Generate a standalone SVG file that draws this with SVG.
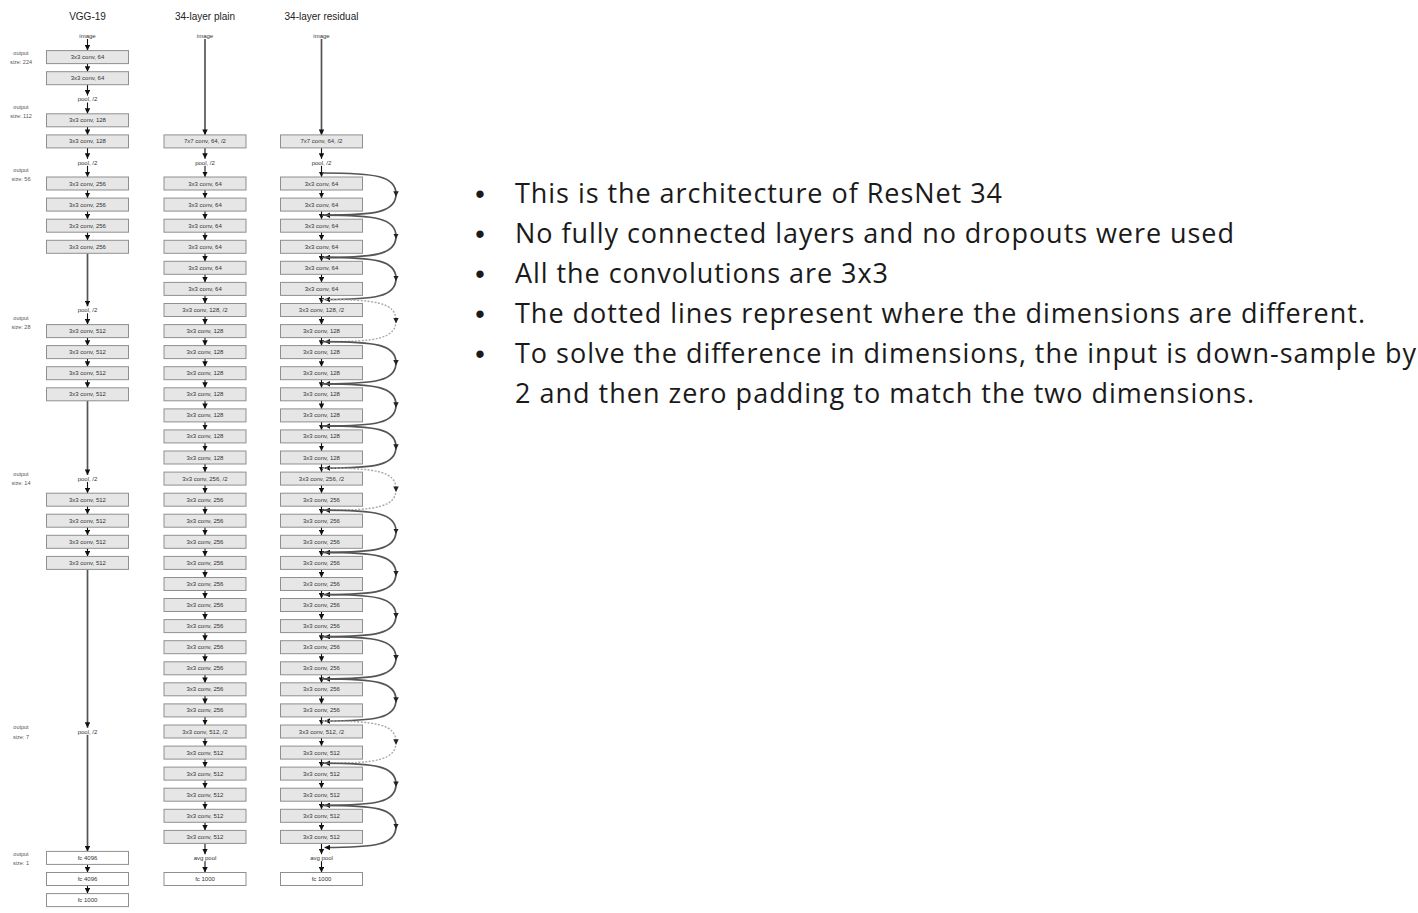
<svg xmlns="http://www.w3.org/2000/svg" xmlns:xlink="http://www.w3.org/1999/xlink" width="1418" height="913" viewBox="0 0 1418 913">
<style>
text{font-family:"Liberation Sans",Arial,sans-serif}
.bx{fill:#e6e6e6;stroke:#8f8f8f;stroke-width:1}
.fc{fill:#ffffff;stroke:#8f8f8f;stroke-width:1}
.lb{font-size:6px;fill:#333;text-anchor:middle}
.ol{font-size:5.5px;fill:#555;text-anchor:middle}
.ti{font-size:10px;fill:#222;text-anchor:middle}
.ar{stroke:#111;stroke-width:1.1;marker-end:url(#ah)}
.lg{stroke:#555;stroke-width:1.7;marker-end:url(#ah)}
.sk{fill:none;stroke:#555;stroke-width:1.7;marker-mid:url(#am);marker-end:url(#ah)}
.dt{fill:none;stroke:#a8a8a8;stroke-width:1.4;stroke-dasharray:2 1.5;marker-mid:url(#am);marker-end:url(#ah)}
.nt{font-family:"Open Sans","Noto Sans",sans-serif;font-size:27px;fill:#1a1a1a}
.bu{font-family:"Liberation Sans",Arial,sans-serif;font-size:27px;fill:#1a1a1a;text-anchor:middle}
</style>
<defs>
<marker id="ah" viewBox="0 0 6 6" refX="6" refY="3" markerWidth="5.5" markerHeight="5.5" markerUnits="userSpaceOnUse" orient="auto"><path d="M0,0 L6,3 L0,6 z" fill="#111"/></marker>
<marker id="am" viewBox="0 0 6 6" refX="3" refY="3" markerWidth="5.5" markerHeight="5.5" markerUnits="userSpaceOnUse" orient="auto"><path d="M0,0 L6,3 L0,6 z" fill="#222"/></marker>
<line id="s" class="ar" x1="0" y1="0" x2="0" y2="8.1"/>
<path id="arcS" class="sk" d="M322 0 C376 0 396 3 396 21.1 C396 39.2 376 42.2 324.5 42.2"/>
<path id="arcD" class="dt" d="M322 0 C376 0 396 3 396 21.1 C396 39.2 376 42.2 324.5 42.2"/>
</defs>
<rect width="1418" height="913" fill="#ffffff"/>

<g id="titles">
<text class="ti" x="87.5" y="20">VGG-19</text>
<text class="ti" x="205" y="20">34-layer plain</text>
<text class="ti" x="321.5" y="20">34-layer residual</text>
</g>

<g id="output-sizes">
<text class="ol" x="21" y="55">output</text><text class="ol" x="21" y="64">size: 224</text>
<text class="ol" x="21" y="109">output</text><text class="ol" x="21" y="118">size: 112</text>
<text class="ol" x="21" y="172">output</text><text class="ol" x="21" y="181">size: 56</text>
<text class="ol" x="21" y="320">output</text><text class="ol" x="21" y="329">size: 28</text>
<text class="ol" x="21" y="476">output</text><text class="ol" x="21" y="485">size: 14</text>
<text class="ol" x="21" y="729">output</text><text class="ol" x="21" y="739">size: 7</text>
<text class="ol" x="21" y="856">output</text><text class="ol" x="21" y="865">size: 1</text>
</g>

<g id="connectors">
<!-- VGG -->
<line class="ar" x1="87.5" y1="39" x2="87.5" y2="50.6"/>
<use href="#s" x="87.5" y="63.6"/>
<line class="ar" x1="87.5" y1="84.7" x2="87.5" y2="95.5"/>
<line class="ar" x1="87.5" y1="102.5" x2="87.5" y2="113.8"/>
<use href="#s" x="87.5" y="126.8"/>
<line class="ar" x1="87.5" y1="147.9" x2="87.5" y2="158.8"/>
<line class="ar" x1="87.5" y1="165.8" x2="87.5" y2="177"/>
<use href="#s" x="87.5" y="190"/>
<use href="#s" x="87.5" y="211.1"/>
<use href="#s" x="87.5" y="232.2"/>
<line class="lg" x1="87.5" y1="253.3" x2="87.5" y2="306.3"/>
<line class="ar" x1="87.5" y1="313.3" x2="87.5" y2="324.6"/>
<use href="#s" x="87.5" y="337.6"/>
<use href="#s" x="87.5" y="358.6"/>
<use href="#s" x="87.5" y="379.7"/>
<line class="lg" x1="87.5" y1="400.8" x2="87.5" y2="474.9"/>
<line class="ar" x1="87.5" y1="481.9" x2="87.5" y2="493.2"/>
<use href="#s" x="87.5" y="506.2"/>
<use href="#s" x="87.5" y="527.2"/>
<use href="#s" x="87.5" y="548.3"/>
<line class="lg" x1="87.5" y1="569.4" x2="87.5" y2="727.8"/>
<line class="lg" x1="87.5" y1="734.8" x2="87.5" y2="851.4"/>
<use href="#s" x="87.5" y="864.4"/>
<use href="#s" x="87.5" y="885.5"/>
<!-- plain -->
<line class="lg" x1="205" y1="39" x2="205" y2="134.9"/>
<line class="ar" x1="205" y1="147.9" x2="205" y2="158.8"/>
<line class="ar" x1="205" y1="165.8" x2="205" y2="177"/>
<use href="#s" x="205" y="190"/><use href="#s" x="205" y="211.1"/><use href="#s" x="205" y="232.2"/><use href="#s" x="205" y="253.3"/>
<use href="#s" x="205" y="274.3"/><use href="#s" x="205" y="295.4"/><use href="#s" x="205" y="316.5"/><use href="#s" x="205" y="337.6"/>
<use href="#s" x="205" y="358.6"/><use href="#s" x="205" y="379.7"/><use href="#s" x="205" y="400.8"/><use href="#s" x="205" y="421.9"/>
<use href="#s" x="205" y="442.9"/><use href="#s" x="205" y="464"/><use href="#s" x="205" y="485.1"/><use href="#s" x="205" y="506.2"/>
<use href="#s" x="205" y="527.2"/><use href="#s" x="205" y="548.3"/><use href="#s" x="205" y="569.4"/><use href="#s" x="205" y="590.5"/>
<use href="#s" x="205" y="611.5"/><use href="#s" x="205" y="632.6"/><use href="#s" x="205" y="653.7"/><use href="#s" x="205" y="674.8"/>
<use href="#s" x="205" y="695.8"/><use href="#s" x="205" y="716.9"/><use href="#s" x="205" y="738"/><use href="#s" x="205" y="759.1"/>
<use href="#s" x="205" y="780.1"/><use href="#s" x="205" y="801.2"/><use href="#s" x="205" y="822.3"/>
<line class="ar" x1="205" y1="843.4" x2="205" y2="854.2"/>
<line class="ar" x1="205" y1="861.2" x2="205" y2="872.5"/>
<!-- residual -->
<line class="lg" x1="321.5" y1="39" x2="321.5" y2="134.9"/>
<line class="ar" x1="321.5" y1="147.9" x2="321.5" y2="158.8"/>
<line class="ar" x1="321.5" y1="165.8" x2="321.5" y2="177"/>
<use href="#s" x="321.5" y="190"/><use href="#s" x="321.5" y="211.1"/><use href="#s" x="321.5" y="232.2"/><use href="#s" x="321.5" y="253.3"/>
<use href="#s" x="321.5" y="274.3"/><use href="#s" x="321.5" y="295.4"/><use href="#s" x="321.5" y="316.5"/><use href="#s" x="321.5" y="337.6"/>
<use href="#s" x="321.5" y="358.6"/><use href="#s" x="321.5" y="379.7"/><use href="#s" x="321.5" y="400.8"/><use href="#s" x="321.5" y="421.9"/>
<use href="#s" x="321.5" y="442.9"/><use href="#s" x="321.5" y="464"/><use href="#s" x="321.5" y="485.1"/><use href="#s" x="321.5" y="506.2"/>
<use href="#s" x="321.5" y="527.2"/><use href="#s" x="321.5" y="548.3"/><use href="#s" x="321.5" y="569.4"/><use href="#s" x="321.5" y="590.5"/>
<use href="#s" x="321.5" y="611.5"/><use href="#s" x="321.5" y="632.6"/><use href="#s" x="321.5" y="653.7"/><use href="#s" x="321.5" y="674.8"/>
<use href="#s" x="321.5" y="695.8"/><use href="#s" x="321.5" y="716.9"/><use href="#s" x="321.5" y="738"/><use href="#s" x="321.5" y="759.1"/>
<use href="#s" x="321.5" y="780.1"/><use href="#s" x="321.5" y="801.2"/><use href="#s" x="321.5" y="822.3"/>
<line class="ar" x1="321.5" y1="843.4" x2="321.5" y2="854.2"/>
<line class="ar" x1="321.5" y1="861.2" x2="321.5" y2="872.5"/>
<!-- shortcuts -->
<use href="#arcS" y="173"/>
<use href="#arcS" y="215.2"/>
<use href="#arcS" y="257.3"/>
<use href="#arcD" y="299.5"/>
<use href="#arcS" y="341.6"/>
<use href="#arcS" y="383.8"/>
<use href="#arcS" y="425.9"/>
<use href="#arcD" y="468.1"/>
<use href="#arcS" y="510.2"/>
<use href="#arcS" y="552.4"/>
<use href="#arcS" y="594.5"/>
<use href="#arcS" y="636.7"/>
<use href="#arcS" y="678.8"/>
<use href="#arcD" y="721"/>
<use href="#arcS" y="763.1"/>
<use href="#arcS" y="805.3"/>
</g>

<g id="vgg">
<g id="vgg-image"><text class="lb" x="87.5" y="38">image</text></g>
<g id="vgg-c1"><rect class="bx" x="46.5" y="50.6" width="82" height="13"/><text class="lb" x="87.5" y="59.1">3x3 conv, 64</text></g>
<g id="vgg-c2"><rect class="bx" x="46.5" y="71.7" width="82" height="13"/><text class="lb" x="87.5" y="80.2">3x3 conv, 64</text></g>
<g id="vgg-p1"><text class="lb" x="87.5" y="101.2">pool, /2</text></g>
<g id="vgg-c3"><rect class="bx" x="46.5" y="113.8" width="82" height="13"/><text class="lb" x="87.5" y="122.3">3x3 conv, 128</text></g>
<g id="vgg-c4"><rect class="bx" x="46.5" y="134.9" width="82" height="13"/><text class="lb" x="87.5" y="143.4">3x3 conv, 128</text></g>
<g id="vgg-p2"><text class="lb" x="87.5" y="164.5">pool, /2</text></g>
<g id="vgg-c5"><rect class="bx" x="46.5" y="177" width="82" height="13"/><text class="lb" x="87.5" y="185.5">3x3 conv, 256</text></g>
<g id="vgg-c6"><rect class="bx" x="46.5" y="198.1" width="82" height="13"/><text class="lb" x="87.5" y="206.6">3x3 conv, 256</text></g>
<g id="vgg-c7"><rect class="bx" x="46.5" y="219.2" width="82" height="13"/><text class="lb" x="87.5" y="227.7">3x3 conv, 256</text></g>
<g id="vgg-c8"><rect class="bx" x="46.5" y="240.3" width="82" height="13"/><text class="lb" x="87.5" y="248.8">3x3 conv, 256</text></g>
<g id="vgg-p3"><text class="lb" x="87.5" y="312">pool, /2</text></g>
<g id="vgg-c9"><rect class="bx" x="46.5" y="324.6" width="82" height="13"/><text class="lb" x="87.5" y="333.1">3x3 conv, 512</text></g>
<g id="vgg-c10"><rect class="bx" x="46.5" y="345.6" width="82" height="13"/><text class="lb" x="87.5" y="354.1">3x3 conv, 512</text></g>
<g id="vgg-c11"><rect class="bx" x="46.5" y="366.7" width="82" height="13"/><text class="lb" x="87.5" y="375.2">3x3 conv, 512</text></g>
<g id="vgg-c12"><rect class="bx" x="46.5" y="387.8" width="82" height="13"/><text class="lb" x="87.5" y="396.3">3x3 conv, 512</text></g>
<g id="vgg-p4"><text class="lb" x="87.5" y="480.6">pool, /2</text></g>
<g id="vgg-c13"><rect class="bx" x="46.5" y="493.2" width="82" height="13"/><text class="lb" x="87.5" y="501.7">3x3 conv, 512</text></g>
<g id="vgg-c14"><rect class="bx" x="46.5" y="514.2" width="82" height="13"/><text class="lb" x="87.5" y="522.7">3x3 conv, 512</text></g>
<g id="vgg-c15"><rect class="bx" x="46.5" y="535.3" width="82" height="13"/><text class="lb" x="87.5" y="543.8">3x3 conv, 512</text></g>
<g id="vgg-c16"><rect class="bx" x="46.5" y="556.4" width="82" height="13"/><text class="lb" x="87.5" y="564.9">3x3 conv, 512</text></g>
<g id="vgg-p5"><text class="lb" x="87.5" y="733.5">pool, /2</text></g>
<g id="vgg-fc1"><rect class="fc" x="46.5" y="851.4" width="82" height="13"/><text class="lb" x="87.5" y="859.9">fc 4096</text></g>
<g id="vgg-fc2"><rect class="fc" x="46.5" y="872.5" width="82" height="13"/><text class="lb" x="87.5" y="881">fc 4096</text></g>
<g id="vgg-fc3"><rect class="fc" x="46.5" y="893.6" width="82" height="13"/><text class="lb" x="87.5" y="902.1">fc 1000</text></g>
</g>

<g id="plain">
<g id="plain-image"><text class="lb" x="205" y="38">image</text></g>
<g id="plain-c0"><rect class="bx" x="164" y="134.9" width="82" height="13"/><text class="lb" x="205" y="143.4">7x7 conv, 64, /2</text></g>
<g id="plain-pool"><text class="lb" x="205" y="164.5">pool, /2</text></g>
<g id="plain-c1"><rect class="bx" x="164" y="177" width="82" height="13"/><text class="lb" x="205" y="185.5">3x3 conv, 64</text></g>
<g id="plain-c2"><rect class="bx" x="164" y="198.1" width="82" height="13"/><text class="lb" x="205" y="206.6">3x3 conv, 64</text></g>
<g id="plain-c3"><rect class="bx" x="164" y="219.2" width="82" height="13"/><text class="lb" x="205" y="227.7">3x3 conv, 64</text></g>
<g id="plain-c4"><rect class="bx" x="164" y="240.3" width="82" height="13"/><text class="lb" x="205" y="248.8">3x3 conv, 64</text></g>
<g id="plain-c5"><rect class="bx" x="164" y="261.3" width="82" height="13"/><text class="lb" x="205" y="269.8">3x3 conv, 64</text></g>
<g id="plain-c6"><rect class="bx" x="164" y="282.4" width="82" height="13"/><text class="lb" x="205" y="290.9">3x3 conv, 64</text></g>
<g id="plain-c7"><rect class="bx" x="164" y="303.5" width="82" height="13"/><text class="lb" x="205" y="312">3x3 conv, 128, /2</text></g>
<g id="plain-c8"><rect class="bx" x="164" y="324.6" width="82" height="13"/><text class="lb" x="205" y="333.1">3x3 conv, 128</text></g>
<g id="plain-c9"><rect class="bx" x="164" y="345.6" width="82" height="13"/><text class="lb" x="205" y="354.1">3x3 conv, 128</text></g>
<g id="plain-c10"><rect class="bx" x="164" y="366.7" width="82" height="13"/><text class="lb" x="205" y="375.2">3x3 conv, 128</text></g>
<g id="plain-c11"><rect class="bx" x="164" y="387.8" width="82" height="13"/><text class="lb" x="205" y="396.3">3x3 conv, 128</text></g>
<g id="plain-c12"><rect class="bx" x="164" y="408.9" width="82" height="13"/><text class="lb" x="205" y="417.4">3x3 conv, 128</text></g>
<g id="plain-c13"><rect class="bx" x="164" y="429.9" width="82" height="13"/><text class="lb" x="205" y="438.4">3x3 conv, 128</text></g>
<g id="plain-c14"><rect class="bx" x="164" y="451" width="82" height="13"/><text class="lb" x="205" y="459.5">3x3 conv, 128</text></g>
<g id="plain-c15"><rect class="bx" x="164" y="472.1" width="82" height="13"/><text class="lb" x="205" y="480.6">3x3 conv, 256, /2</text></g>
<g id="plain-c16"><rect class="bx" x="164" y="493.2" width="82" height="13"/><text class="lb" x="205" y="501.7">3x3 conv, 256</text></g>
<g id="plain-c17"><rect class="bx" x="164" y="514.2" width="82" height="13"/><text class="lb" x="205" y="522.7">3x3 conv, 256</text></g>
<g id="plain-c18"><rect class="bx" x="164" y="535.3" width="82" height="13"/><text class="lb" x="205" y="543.8">3x3 conv, 256</text></g>
<g id="plain-c19"><rect class="bx" x="164" y="556.4" width="82" height="13"/><text class="lb" x="205" y="564.9">3x3 conv, 256</text></g>
<g id="plain-c20"><rect class="bx" x="164" y="577.5" width="82" height="13"/><text class="lb" x="205" y="586">3x3 conv, 256</text></g>
<g id="plain-c21"><rect class="bx" x="164" y="598.5" width="82" height="13"/><text class="lb" x="205" y="607">3x3 conv, 256</text></g>
<g id="plain-c22"><rect class="bx" x="164" y="619.6" width="82" height="13"/><text class="lb" x="205" y="628.1">3x3 conv, 256</text></g>
<g id="plain-c23"><rect class="bx" x="164" y="640.7" width="82" height="13"/><text class="lb" x="205" y="649.2">3x3 conv, 256</text></g>
<g id="plain-c24"><rect class="bx" x="164" y="661.8" width="82" height="13"/><text class="lb" x="205" y="670.3">3x3 conv, 256</text></g>
<g id="plain-c25"><rect class="bx" x="164" y="682.8" width="82" height="13"/><text class="lb" x="205" y="691.3">3x3 conv, 256</text></g>
<g id="plain-c26"><rect class="bx" x="164" y="703.9" width="82" height="13"/><text class="lb" x="205" y="712.4">3x3 conv, 256</text></g>
<g id="plain-c27"><rect class="bx" x="164" y="725" width="82" height="13"/><text class="lb" x="205" y="733.5">3x3 conv, 512, /2</text></g>
<g id="plain-c28"><rect class="bx" x="164" y="746.1" width="82" height="13"/><text class="lb" x="205" y="754.6">3x3 conv, 512</text></g>
<g id="plain-c29"><rect class="bx" x="164" y="767.1" width="82" height="13"/><text class="lb" x="205" y="775.6">3x3 conv, 512</text></g>
<g id="plain-c30"><rect class="bx" x="164" y="788.2" width="82" height="13"/><text class="lb" x="205" y="796.7">3x3 conv, 512</text></g>
<g id="plain-c31"><rect class="bx" x="164" y="809.3" width="82" height="13"/><text class="lb" x="205" y="817.8">3x3 conv, 512</text></g>
<g id="plain-c32"><rect class="bx" x="164" y="830.4" width="82" height="13"/><text class="lb" x="205" y="838.9">3x3 conv, 512</text></g>
<g id="plain-avg"><text class="lb" x="205" y="859.9">avg pool</text></g>
<g id="plain-fc"><rect class="fc" x="164" y="872.5" width="82" height="13"/><text class="lb" x="205" y="881">fc 1000</text></g>
</g>

<g id="residual">
<g id="res-image"><text class="lb" x="321.5" y="38">image</text></g>
<g id="res-c0"><rect class="bx" x="280.5" y="134.9" width="82" height="13"/><text class="lb" x="321.5" y="143.4">7x7 conv, 64, /2</text></g>
<g id="res-pool"><text class="lb" x="321.5" y="164.5">pool, /2</text></g>
<g id="res-c1"><rect class="bx" x="280.5" y="177" width="82" height="13"/><text class="lb" x="321.5" y="185.5">3x3 conv, 64</text></g>
<g id="res-c2"><rect class="bx" x="280.5" y="198.1" width="82" height="13"/><text class="lb" x="321.5" y="206.6">3x3 conv, 64</text></g>
<g id="res-c3"><rect class="bx" x="280.5" y="219.2" width="82" height="13"/><text class="lb" x="321.5" y="227.7">3x3 conv, 64</text></g>
<g id="res-c4"><rect class="bx" x="280.5" y="240.3" width="82" height="13"/><text class="lb" x="321.5" y="248.8">3x3 conv, 64</text></g>
<g id="res-c5"><rect class="bx" x="280.5" y="261.3" width="82" height="13"/><text class="lb" x="321.5" y="269.8">3x3 conv, 64</text></g>
<g id="res-c6"><rect class="bx" x="280.5" y="282.4" width="82" height="13"/><text class="lb" x="321.5" y="290.9">3x3 conv, 64</text></g>
<g id="res-c7"><rect class="bx" x="280.5" y="303.5" width="82" height="13"/><text class="lb" x="321.5" y="312">3x3 conv, 128, /2</text></g>
<g id="res-c8"><rect class="bx" x="280.5" y="324.6" width="82" height="13"/><text class="lb" x="321.5" y="333.1">3x3 conv, 128</text></g>
<g id="res-c9"><rect class="bx" x="280.5" y="345.6" width="82" height="13"/><text class="lb" x="321.5" y="354.1">3x3 conv, 128</text></g>
<g id="res-c10"><rect class="bx" x="280.5" y="366.7" width="82" height="13"/><text class="lb" x="321.5" y="375.2">3x3 conv, 128</text></g>
<g id="res-c11"><rect class="bx" x="280.5" y="387.8" width="82" height="13"/><text class="lb" x="321.5" y="396.3">3x3 conv, 128</text></g>
<g id="res-c12"><rect class="bx" x="280.5" y="408.9" width="82" height="13"/><text class="lb" x="321.5" y="417.4">3x3 conv, 128</text></g>
<g id="res-c13"><rect class="bx" x="280.5" y="429.9" width="82" height="13"/><text class="lb" x="321.5" y="438.4">3x3 conv, 128</text></g>
<g id="res-c14"><rect class="bx" x="280.5" y="451" width="82" height="13"/><text class="lb" x="321.5" y="459.5">3x3 conv, 128</text></g>
<g id="res-c15"><rect class="bx" x="280.5" y="472.1" width="82" height="13"/><text class="lb" x="321.5" y="480.6">3x3 conv, 256, /2</text></g>
<g id="res-c16"><rect class="bx" x="280.5" y="493.2" width="82" height="13"/><text class="lb" x="321.5" y="501.7">3x3 conv, 256</text></g>
<g id="res-c17"><rect class="bx" x="280.5" y="514.2" width="82" height="13"/><text class="lb" x="321.5" y="522.7">3x3 conv, 256</text></g>
<g id="res-c18"><rect class="bx" x="280.5" y="535.3" width="82" height="13"/><text class="lb" x="321.5" y="543.8">3x3 conv, 256</text></g>
<g id="res-c19"><rect class="bx" x="280.5" y="556.4" width="82" height="13"/><text class="lb" x="321.5" y="564.9">3x3 conv, 256</text></g>
<g id="res-c20"><rect class="bx" x="280.5" y="577.5" width="82" height="13"/><text class="lb" x="321.5" y="586">3x3 conv, 256</text></g>
<g id="res-c21"><rect class="bx" x="280.5" y="598.5" width="82" height="13"/><text class="lb" x="321.5" y="607">3x3 conv, 256</text></g>
<g id="res-c22"><rect class="bx" x="280.5" y="619.6" width="82" height="13"/><text class="lb" x="321.5" y="628.1">3x3 conv, 256</text></g>
<g id="res-c23"><rect class="bx" x="280.5" y="640.7" width="82" height="13"/><text class="lb" x="321.5" y="649.2">3x3 conv, 256</text></g>
<g id="res-c24"><rect class="bx" x="280.5" y="661.8" width="82" height="13"/><text class="lb" x="321.5" y="670.3">3x3 conv, 256</text></g>
<g id="res-c25"><rect class="bx" x="280.5" y="682.8" width="82" height="13"/><text class="lb" x="321.5" y="691.3">3x3 conv, 256</text></g>
<g id="res-c26"><rect class="bx" x="280.5" y="703.9" width="82" height="13"/><text class="lb" x="321.5" y="712.4">3x3 conv, 256</text></g>
<g id="res-c27"><rect class="bx" x="280.5" y="725" width="82" height="13"/><text class="lb" x="321.5" y="733.5">3x3 conv, 512, /2</text></g>
<g id="res-c28"><rect class="bx" x="280.5" y="746.1" width="82" height="13"/><text class="lb" x="321.5" y="754.6">3x3 conv, 512</text></g>
<g id="res-c29"><rect class="bx" x="280.5" y="767.1" width="82" height="13"/><text class="lb" x="321.5" y="775.6">3x3 conv, 512</text></g>
<g id="res-c30"><rect class="bx" x="280.5" y="788.2" width="82" height="13"/><text class="lb" x="321.5" y="796.7">3x3 conv, 512</text></g>
<g id="res-c31"><rect class="bx" x="280.5" y="809.3" width="82" height="13"/><text class="lb" x="321.5" y="817.8">3x3 conv, 512</text></g>
<g id="res-c32"><rect class="bx" x="280.5" y="830.4" width="82" height="13"/><text class="lb" x="321.5" y="838.9">3x3 conv, 512</text></g>
<g id="res-avg"><text class="lb" x="321.5" y="859.9">avg pool</text></g>
<g id="res-fc"><rect class="fc" x="280.5" y="872.5" width="82" height="13"/><text class="lb" x="321.5" y="881">fc 1000</text></g>
</g>

<g id="notes">
<text class="bu" x="480" y="203">•</text>
<text class="nt" x="515" y="203" textLength="487" lengthAdjust="spacing">This is the architecture of ResNet 34</text>
<text class="bu" x="480" y="243">•</text>
<text class="nt" x="515" y="243" textLength="719" lengthAdjust="spacing">No fully connected layers and no dropouts were used</text>
<text class="bu" x="480" y="283">•</text>
<text class="nt" x="515" y="283" textLength="373" lengthAdjust="spacing">All the convolutions are 3x3</text>
<text class="bu" x="480" y="323">•</text>
<text class="nt" x="515" y="323" textLength="850" lengthAdjust="spacing">The dotted lines represent where the dimensions are different.</text>
<text class="bu" x="480" y="363">•</text>
<text class="nt" x="515" y="363" textLength="901" lengthAdjust="spacing">To solve the difference in dimensions, the input is down-sample by</text>
<text class="nt" x="515" y="403" textLength="739" lengthAdjust="spacing">2 and then zero padding to match the two dimensions.</text>
</g>
</svg>
